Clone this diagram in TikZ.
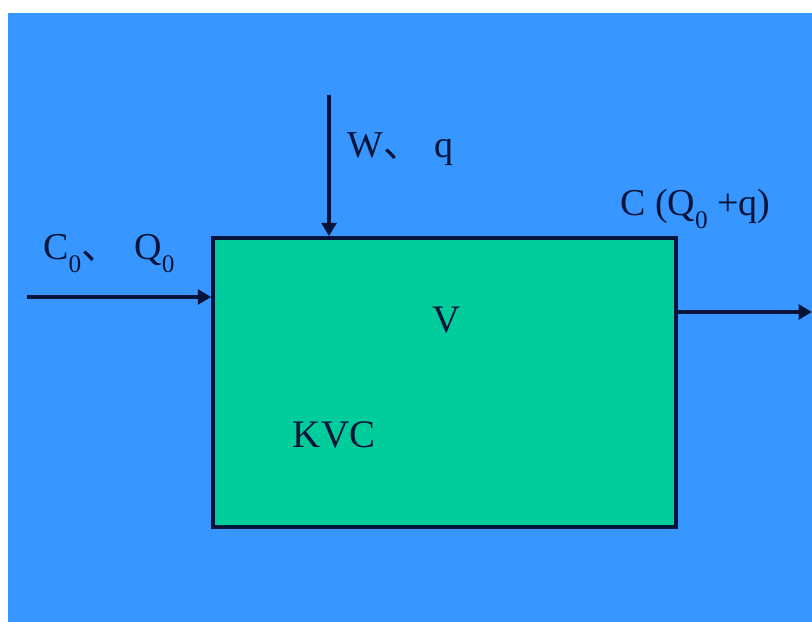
\documentclass[tikz,border=0pt]{standalone}
\usepackage{fontspec}
\setmainfont{Liberation Serif}
\newfontfamily\cjk{Noto Sans CJK SC}
\usetikzlibrary{positioning,arrows.meta}
\definecolor{bgblue}{RGB}{55,150,255}
\definecolor{tankgreen}{RGB}{0,205,155}
\definecolor{ink}{RGB}{6,20,58}
\newcommand{\lowidx}[1]{\raisebox{-0.32em}{\fontsize{18}{20}\selectfont #1}}

\begin{document}
\begin{tikzpicture}[
x=0.025cm,y=-0.025cm,
lbl/.style={text=ink,inner sep=0pt,font=\fontsize{27}{32}\selectfont},
inlbl/.style={text=ink,inner sep=0pt,font=\fontsize{27.7}{33}\selectfont},
flow/.style={draw=ink,line width=2.9pt,-{Triangle[length=9.5pt,width=10.5pt]}}]
\useasboundingbox (0,0) rectangle (812,622);
\fill[white] (0,0) rectangle (812,622);
\fill[bgblue] (8,13) rectangle (812,622);
\node (tank) [draw=ink,line width=2.5pt,fill=tankgreen,minimum width=11.575cm,minimum height=7.225cm] at (444.5,382.5) {};
\coordinate (feed) at (27,297);
\coordinate (dose) at (329,95);
\coordinate (outlet) at (812,312);
\draw[flow] (feed) -- (feed -| tank.west);
\draw[flow] (dose) -- (dose |- tank.north);
\draw[flow] (tank.east |- outlet) -- (outlet);
\node[lbl,anchor=base west] (c0q0) at (43,260) {C\lowidx{0}{\cjk 、}\hspace{0.4em}Q\lowidx{0}};
\node[lbl,anchor=base west] (wq) at (347,158) {W{\cjk 、}\hspace{0.35em}q};
\node[lbl,anchor=base west] (cout) at (620,216) {C (Q\lowidx{0} +q)};
\node[inlbl,anchor=base] (vol) at (447,333) {V};
\node[inlbl,anchor=base] (kvc) at (334,448) {KVC};
\end{tikzpicture}
\end{document}
